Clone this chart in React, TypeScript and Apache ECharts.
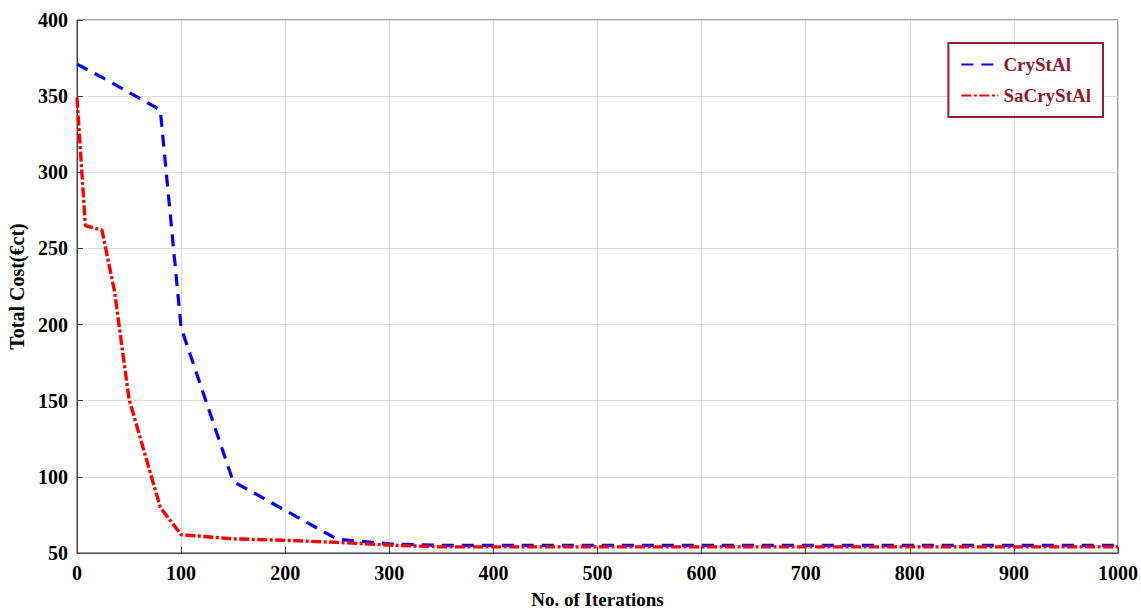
import React, { useEffect, useRef } from "react";
import * as echarts from "echarts";

const xTicks = [0, 100, 200, 300, 400, 500, 600, 700, 800, 900, 1000];
const yTicks = [50, 100, 150, 200, 250, 300, 350, 400];

const crystalIter = [0, 25, 80, 100, 150, 250, 300, 350, 1000];
const crystalCost = [371, 362, 341, 198, 97, 59, 56, 55, 55];

const saIter = [0, 8, 24, 36, 50, 80, 100, 150, 200, 250, 300, 350, 1000];
const saCost = [349, 265, 262, 222, 151, 80, 62, 59.3, 58.3, 57, 55.2, 54, 54];

const seriesNames = ["CryStAl", "SaCryStAl"];

export default function App() {
  const ref = useRef<HTMLDivElement>(null);
  useEffect(() => {
    const chart = echarts.init(ref.current!, undefined, { renderer: "svg" });
    const font = "Liberation Serif";
    chart.setOption({
      animation: false,
      backgroundColor: "#ffffff",
      textStyle: { fontFamily: font },
      grid: {
        left: 77,
        right: 23,
        top: 20,
        bottom: 59,
        containLabel: false,
        outerBoundsMode: "none",
        show: true,
        borderColor: "#444",
        borderWidth: 1,
        backgroundColor: "transparent",
      },
      legend: {
        orient: "vertical",
        right: 38,
        top: 43,
        itemWidth: 37,
        itemHeight: 14,
        itemGap: 12,
        padding: [12, 12, 12, 12],
        backgroundColor: "#fff",
        borderColor: "#9b1c2c",
        borderWidth: 2,
        itemStyle: { opacity: 0 },
        textStyle: { color: "#8f1a2a", fontFamily: font, fontWeight: "bold", fontSize: 19 },
        data: seriesNames,
      },
      xAxis: {
        type: "value",
        min: xTicks[0],
        max: xTicks[xTicks.length - 1],
        interval: 100,
        name: "No. of Iterations",
        nameLocation: "middle",
        nameGap: 37,
        nameTextStyle: { fontFamily: font, fontWeight: "bold", fontSize: 19, color: "#000" },
        axisLine: { show: true, lineStyle: { color: "#444", width: 1 } },
        axisTick: { show: true, inside: true, length: 6, lineStyle: { color: "#444" } },
        axisLabel: {
          fontFamily: font,
          fontWeight: "bold",
          fontSize: 20,
          color: "#000",
          margin: 10,
          formatter: (v: number) => String(v),
        },
        splitLine: { show: true, lineStyle: { color: "#dcdcdc", width: 1 } },
      },
      yAxis: {
        type: "value",
        min: yTicks[0],
        max: yTicks[yTicks.length - 1],
        interval: 50,
        name: "Total Cost(€ct)",
        nameLocation: "middle",
        nameGap: 47,
        nameTextStyle: { fontFamily: font, fontWeight: "bold", fontSize: 20, color: "#000" },
        axisLine: { show: true, lineStyle: { color: "#444", width: 1 } },
        axisTick: { show: true, inside: true, length: 6, lineStyle: { color: "#444" } },
        axisLabel: {
          fontFamily: font,
          fontWeight: "bold",
          fontSize: 20,
          color: "#000",
          margin: 9,
          formatter: (v: number) => String(v),
        },
        splitLine: { show: true, lineStyle: { color: "#dcdcdc", width: 1 } },
      },
      series: [
        {
          name: seriesNames[0],
          type: "line",
          showSymbol: false,
          symbol: "none",
          z: 2,
          lineStyle: { color: "#0000ff", width: 3.2, type: [12, 8] },
          itemStyle: { color: "#0000ff" },
          data: crystalIter.map((x, i) => [x, crystalCost[i]]),
        },
        {
          name: seriesNames[1],
          type: "line",
          showSymbol: false,
          symbol: "none",
          z: 3,
          lineStyle: { color: "#ff0000", width: 3.4, type: [10, 2.5, 3, 2.5] },
          itemStyle: { color: "#ff0000" },
          data: saIter.map((x, i) => [x, saCost[i]]),
        },
      ],
    });
    return () => chart.dispose();
  }, []);
  return (
    <div
      ref={ref}
      style={{ position: "fixed", left: 0, top: 0, width: 1141, height: 612 }}
    />
  );
}
